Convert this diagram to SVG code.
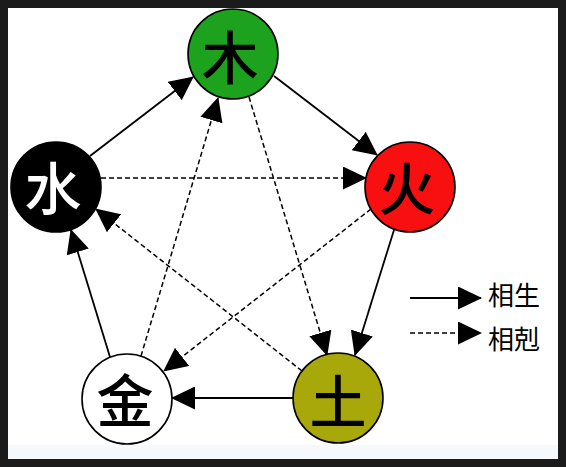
<svg xmlns="http://www.w3.org/2000/svg" width="566" height="467" viewBox="0 0 566 467">
<style>
.node{stroke:#000;stroke-width:1.6}
.ch{font-family:"Noto Sans CJK SC","Noto Sans CJK JP",sans-serif;font-size:57px;font-weight:500;text-anchor:middle;dominant-baseline:central}
.sol{stroke:#000;stroke-width:1.8;fill:none;marker-end:url(#ah)}
.dsh{stroke:#000;stroke-width:1.5;fill:none;stroke-dasharray:5 3;marker-end:url(#ah)}
.lg{font-family:"Noto Sans CJK SC","Noto Sans CJK JP",sans-serif;font-size:26px;font-weight:400;fill:#000}
</style>
<defs>
<marker id="ah" markerUnits="userSpaceOnUse" markerWidth="24" markerHeight="23" refX="23" refY="11.5" orient="auto" viewBox="0 0 24 23">
<path d="M0,0 L24,11.5 L0,23 z" fill="#000"/>
</marker>
</defs>
<rect x="0" y="0" width="566" height="467" fill="#1b1b1b"/>
<rect x="8" y="8" width="550" height="451" fill="#ffffff"/>
<rect x="8" y="445" width="550" height="14" fill="#f6f9fb"/>
<g id="connectors">
<line class="sol" x1="90" y1="156" x2="193" y2="77"/>
<line class="sol" x1="274" y1="76" x2="377" y2="155"/>
<line class="sol" x1="394" y1="230" x2="355" y2="355"/>
<line class="sol" x1="293" y1="398" x2="172" y2="398"/>
<line class="sol" x1="110" y1="357" x2="71" y2="230"/>
<line class="dsh" x1="101" y1="178" x2="366" y2="178"/>
<line class="dsh" x1="249" y1="97" x2="327" y2="355"/>
<line class="dsh" x1="371" y1="209" x2="164" y2="371"/>
<line class="dsh" x1="302" y1="371" x2="96" y2="209"/>
<line class="dsh" x1="141" y1="356" x2="218" y2="98"/>
</g>
<g id="wood">
<circle class="node" cx="233" cy="54" r="45" fill="#1ca21c"/>
<text class="ch" x="230" y="54" fill="#000">木</text>
</g>
<g id="fire">
<circle class="node" cx="410" cy="187" r="45" fill="#f81010"/>
<text class="ch" x="407" y="185" fill="#000">火</text>
</g>
<g id="earth">
<circle class="node" cx="338" cy="398" r="45" fill="#a9a80a"/>
<text class="ch" x="338" y="398" fill="#000">土</text>
</g>
<g id="metal">
<circle class="node" cx="127" cy="399" r="45" fill="#ffffff"/>
<text class="ch" x="125" y="397" fill="#000">金</text>
</g>
<g id="water">
<circle class="node" cx="56" cy="187" r="45" fill="#000000"/>
<text class="ch" x="53" y="185" fill="#ffffff">水</text>
</g>
<g id="legend">
<line class="sol" x1="410" y1="298" x2="481" y2="298"/>
<line class="dsh" x1="410" y1="333" x2="481" y2="333"/>
<text class="lg" x="488" y="305">相生</text>
<text class="lg" x="488" y="349">相剋</text>
</g>
</svg>
